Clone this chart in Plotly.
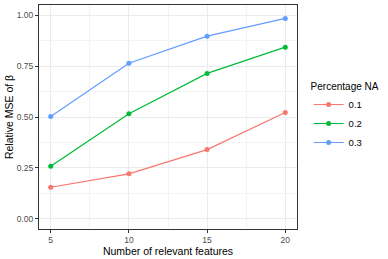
import plotly.graph_objects as go

features = [5, 10, 15, 20]
groups = ["0.1", "0.2", "0.3"]
mse_01 = [0.155, 0.221, 0.340, 0.522]
mse_02 = [0.258, 0.516, 0.714, 0.843]
mse_03 = [0.502, 0.764, 0.897, 0.984]
colors = ["#F8766D", "#00BA38", "#619CFF"]
y_ticks = [0.0, 0.25, 0.5, 0.75, 1.0]
y_ticklabels = ["0.00", "0.25", "0.50", "0.75", "1.00"]

fig = go.Figure()
for name, vals, c in zip(groups, [mse_01, mse_02, mse_03], colors):
    fig.add_trace(go.Scatter(x=features, y=vals, mode="lines+markers", name=name,
                             line=dict(color=c, width=1.2),
                             marker=dict(color=c, size=5)))

axis_common = dict(showline=True, linecolor="#333333", linewidth=1, mirror=True,
                   showgrid=True, gridcolor="#EBEBEB", gridwidth=1,
                   ticks="outside", ticklen=3, tickcolor="#333333", tickwidth=1,
                   tickfont=dict(family="Liberation Sans, Arial", size=8.5, color="#4D4D4D"),
                   zeroline=False, automargin=False)

fig.update_xaxes(range=[4.25, 20.75], tickvals=features, ticktext=[str(f) for f in features],
                 minor=dict(tickvals=[7.5, 12.5, 17.5], showgrid=True, gridcolor="#F3F3F3", gridwidth=0.6, ticks=""),
                 title=dict(text="Number of relevant features", standoff=2,
                            font=dict(family="Liberation Sans, Arial", size=10.5, color="#000000")),
                 **axis_common)
fig.update_yaxes(range=[-0.05, 1.05], tickvals=y_ticks, ticktext=y_ticklabels,
                 minor=dict(tickvals=[0.125, 0.375, 0.625, 0.875], showgrid=True, gridcolor="#F3F3F3", gridwidth=0.6, ticks=""),
                 title=dict(text="Relative MSE of β", standoff=1,
                            font=dict(family="Liberation Sans, Arial", size=10.5, color="#000000")),
                 **axis_common)

fig.update_layout(width=388, height=259,
                  margin=dict(l=39, r=91, t=5, b=30, autoexpand=False),
                  paper_bgcolor="white", plot_bgcolor="white",
                  font=dict(family="Liberation Sans, Arial"),
                  legend=dict(title=dict(text="Percentage NA", font=dict(size=10, color="#000000")),
                              font=dict(size=9.5, color="#000000"),
                              x=1.045, xanchor="left", y=0.5, yanchor="middle",
                              itemwidth=30, tracegroupgap=0, bgcolor="rgba(0,0,0,0)"))

fig.write_html("out.html", config={"displayModeBar": False},
               post_script="document.body.style.margin='0';document.body.style.overflow='hidden';")
